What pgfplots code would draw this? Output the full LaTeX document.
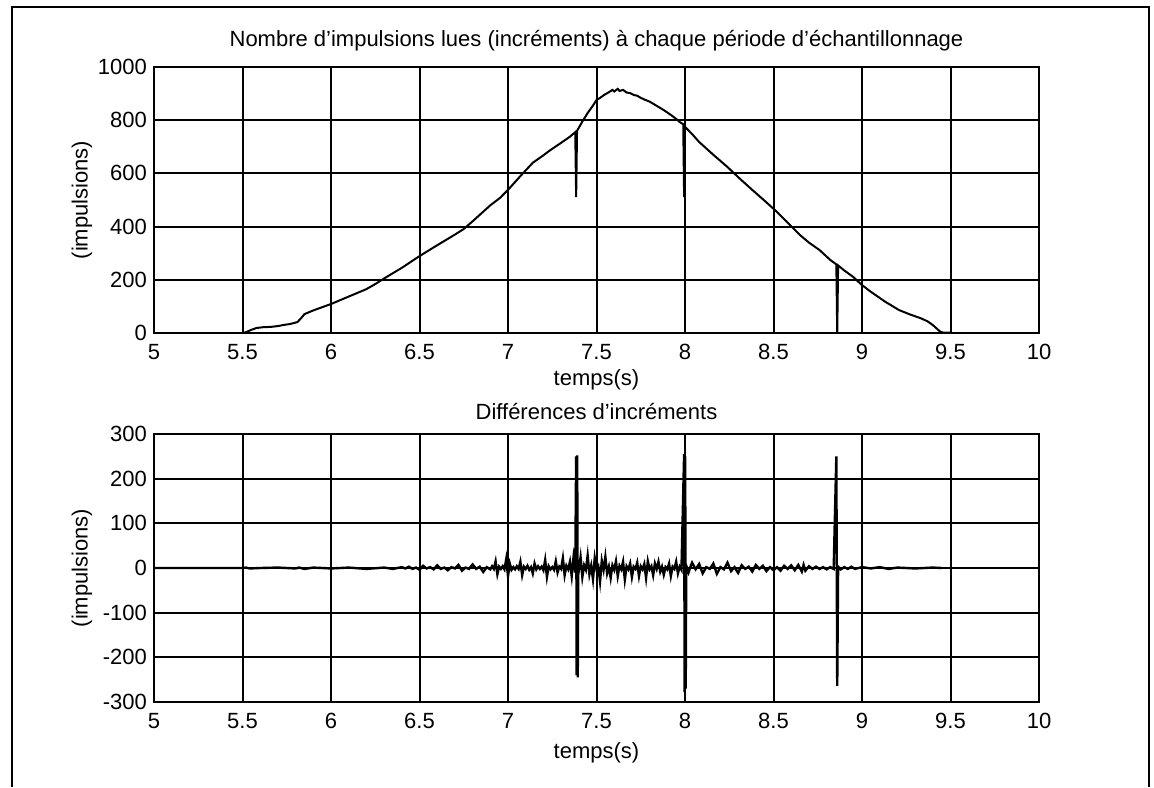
\documentclass[border=0pt]{standalone}
\usepackage{fontspec}
\setmainfont{Liberation Sans}
\usepackage{pgfplots}
\pgfplotsset{compat=1.18}

\pgfplotsset{
  scope/.style={
    scale only axis,
    width=442.5pt,
    xmin=5, xmax=10,
    xtick={5,5.5,...,10},
    grid=major,
    grid style={black, line width=1pt},
    axis line style={line width=1pt},
    major tick length=0pt,
    tick label style={font=\fontsize{11}{13}\selectfont},
    label style={font=\fontsize{11}{13}\selectfont},
    title style={font=\fontsize{11}{13}\selectfont},
    every axis title shift=0pt,
    /pgf/number format/assume math mode=true,
    /pgf/number format/1000 sep={},
    scaled ticks=false,
    xticklabel style={yshift=-2pt},
    ylabel={(impulsions)},
    ylabel style={at={(axis description cs:-0.0814,0.5)}, anchor=center},
  }
}

\begin{document}
\begin{tikzpicture}
\useasboundingbox (0,0) rectangle (577pt,-393.5pt);
\draw[line width=0.8pt] (6pt,-393.5pt) -- (6pt,-3.5pt) -- (574.5pt,-3.5pt) -- (574.5pt,-393.5pt);

% increments per sampling period
\begin{axis}[scope,
  at={(77pt,-166.5pt)}, anchor=south west,
  height=133pt,
  ymin=0, ymax=1000, ytick={0,200,...,1000},
  title={Nombre d'impulsions lues (incréments) à chaque période d'échantillonnage},
  title style={at={(axis description cs:0.5,1.0977)}, anchor=center},
  xlabel={temps(s)},
  xlabel style={at={(axis description cs:0.5,-0.1767)}, anchor=center},
]
\addplot[black, line width=1pt] coordinates {
(5,0)(5.5,0)(5.52,3)(5.55,12)(5.58,19)(5.62,22)(5.66,23)(5.70,26)(5.73,30)
(5.77,34)(5.81,41)(5.83,55)(5.85,71)(5.9,85)(5.95,97)(6.0,109)(6.1,137)
(6.2,165)(6.25,184)(6.3,205)(6.4,245)(6.5,289)(6.6,330)(6.65,350)(6.7,370)
(6.75,391)(6.8,420)(6.9,480)(6.955,508)(7.0,538)(7.07,590)(7.14,640)
(7.2,668)(7.24,688)(7.3,715)(7.35,738)(7.38,755)(7.385,511)(7.39,760)
(7.42,795)(7.45,827)(7.48,855)(7.5,876)(7.52,884)(7.55,898)(7.57,905)
(7.59,914)(7.60,908)(7.62,918)(7.63,910)(7.65,914)(7.67,904)(7.69,902)
(7.71,895)(7.73,892)(7.75,884)(7.78,875)(7.80,870)(7.82,862)(7.85,850)
(7.88,838)(7.92,820)(7.95,805)(7.97,793)(7.99,785)(7.995,511)(8.0,775)
(8.04,748)(8.08,718)(8.12,694)(8.16,670)(8.24,624)(8.31,580)(8.38,538)
(8.45,497)(8.52,455)(8.58,415)(8.65,368)(8.7,340)(8.76,312)(8.82,275)
(8.855,258)(8.86,0)(8.865,254)(8.9,235)(8.95,211)(9.0,180)(9.05,155)
(9.13,118)(9.21,86)(9.27,70)(9.33,56)(9.37,44)(9.40,30)(9.42,18)(9.44,6)
(9.46,1)(9.5,1)
};
\end{axis}

% differences of increments
\begin{axis}[scope,
  at={(77pt,-351pt)}, anchor=south west,
  height=134pt,
  ymin=-300, ymax=300, ytick={-300,-200,...,300},
  title={Différences d'incréments},
  title style={at={(axis description cs:0.5,1.0858)}, anchor=center},
  xlabel={temps(s)},
  xlabel style={at={(axis description cs:0.5,-0.19)}, anchor=center},
]
\addplot[black, line width=1.2pt] coordinates {
(5,0)(5.5,0)(5.52,1)(5.54,-1)(5.6,0)(5.7,1)(5.8,-1)(5.82,1)(5.85,-2)(5.9,1)
(6.0,-1)(6.1,1)(6.2,-2)(6.3,1)(6.35,-2)
(6.40,2)(6.42,-1)(6.44,3)(6.46,-2)(6.48,1)(6.50,-4)(6.52,5)(6.54,-1)(6.56,2)
(6.58,-3)(6.60,6)(6.62,-2)(6.64,1)(6.66,-5)(6.68,2)(6.70,-1)(6.72,7)(6.74,-6)
(6.76,1)(6.78,-2)(6.80,8)(6.82,-2)(6.84,3)(6.86,-9)(6.88,2)(6.90,-3)
(6.91,4)(6.92,-2)(6.93,15)(6.94,-14)(6.95,3)(6.96,-2)(6.97,4)(6.98,-3)
(6.99,20)(7.00,-18)(7.01,10)(7.02,-4)(7.03,2)(7.04,-3)(7.05,4)(7.06,-2)
(7.07,14)(7.08,-16)(7.09,3)(7.10,-2)(7.11,5)(7.12,-4)(7.13,2)(7.14,-12)
(7.15,10)(7.16,-3)(7.17,4)(7.18,-2)(7.19,3)(7.20,-5)(7.21,18)(7.22,-20)
(7.23,4)(7.24,-3)(7.25,2)(7.26,-4)(7.27,15)(7.28,-10)(7.29,3)(7.30,-2)
(7.31,22)(7.32,-16)(7.33,5)(7.34,-3)(7.35,14)(7.36,-18)(7.37,23)(7.38,-10)
(7.385,250)(7.388,-240)(7.391,252)(7.394,-245)(7.397,10)
(7.40,-5)(7.41,24)(7.42,-20)(7.43,6)(7.44,-4)(7.45,28)(7.46,-14)(7.47,5)
(7.48,-25)(7.49,22)(7.50,-3)(7.51,4)(7.52,-30)(7.53,16)(7.54,-4)(7.55,25)
(7.56,-12)(7.57,3)(7.58,-22)(7.59,6)(7.60,-4)(7.61,15)(7.62,-18)(7.63,5)
(7.64,-3)(7.65,14)(7.66,-26)(7.67,4)(7.68,-3)(7.69,10)(7.70,-20)(7.71,3)
(7.72,-2)(7.73,12)(7.74,-18)(7.75,4)(7.76,-3)(7.77,9)(7.78,-22)(7.79,15)
(7.80,-3)(7.81,4)(7.82,-16)(7.83,10)(7.84,-2)(7.85,14)(7.86,-8)(7.87,3)
(7.88,-15)(7.89,2)(7.90,-3)(7.91,10)(7.92,-18)(7.93,3)(7.94,-2)(7.95,14)
(7.96,-12)(7.97,3)(7.98,-4)
(7.995,255)(7.998,-278)(8.001,250)(8.004,-270)(8.007,5)
(8.02,-10)(8.03,2)(8.04,12)(8.06,-3)(8.08,9)(8.10,-12)(8.12,2)(8.14,-2)(8.16,10)
(8.18,-13)(8.20,2)(8.22,-3)(8.24,12)(8.26,-7)(8.28,2)(8.30,-11)(8.32,6)
(8.34,-2)(8.36,3)(8.38,-8)(8.40,7)(8.42,-2)(8.44,5)(8.46,-7)(8.48,2)
(8.50,-5)(8.52,2)(8.54,-6)(8.56,5)(8.58,-2)(8.60,6)(8.62,-5)(8.64,7)
(8.66,-8)(8.67,7)(8.68,-6)(8.70,4)(8.72,-2)(8.74,3)(8.76,-2)(8.78,2)(8.80,-3)
(8.82,2)(8.84,-2)
(8.855,250)(8.86,-264)(8.865,3)
(8.88,-3)(8.90,2)(8.92,-2)(8.94,3)(8.96,-2)(9.00,2)(9.05,-1)(9.10,2)
(9.15,-2)(9.20,1)(9.30,-1)(9.40,1)(9.45,0)
};
\end{axis}
\end{tikzpicture}
\end{document}
